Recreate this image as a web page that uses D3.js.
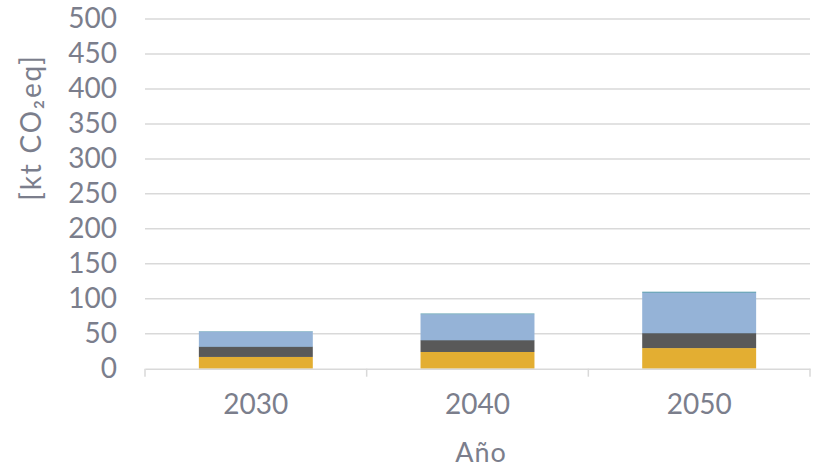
<!DOCTYPE html>
<html>
<head>
<meta charset="utf-8">
<script src="https://cdn.jsdelivr.net/npm/d3@7"></script>
<style>
  html, body { margin: 0; padding: 0; background: #fff; }
  svg { display: block; }
  text { font-family: Lato, "Noto Sans", sans-serif; fill: #7b7e8c; }
</style>
</head>
<body>
<svg id="chart" width="815" height="468"></svg>
<script>
const categories = ["2030", "2040", "2050"];
const seriesNames = ["Serie 1", "Serie 2", "Serie 3", "Serie 4", "Serie 5"];
const serie1 = [16.8, 23.9, 29.5];
const serie2 = [14.2, 16.8, 21.2];
const serie3 = [0.8, 0.3, 0.3];
const serie4 = [21.2, 36.9, 57.8];
const serie5 = [0.5, 0.9, 1.2];
const seriesColors = ["#E3AE32", "#595959", "#1F4E79", "#95B3D7", "#31849B"];
const yTicks = [0, 50, 100, 150, 200, 250, 300, 350, 400, 450, 500];
const yTitle = "[kt CO₂eq]";
const xTitle = "Año";

const svg = d3.select("#chart");
const mLeft = 145, mRight = 810, mTop = 19, mBottom = 368.7;

const x = d3.scaleBand().domain(categories).range([mLeft, mRight]).paddingInner(0.486).paddingOuter(0.243);
const xTick = d3.scaleBand().domain(categories).range([mLeft, mRight]).padding(0);
const y = d3.scaleLinear().domain([0, 500]).range([mBottom, mTop]);

// gridlines
svg.append("g").selectAll("line").data(yTicks.filter(d => d > 0)).join("line")
  .attr("x1", mLeft).attr("x2", mRight)
  .attr("y1", d => y(d)).attr("y2", d => y(d))
  .attr("stroke", "#d9d9d9").attr("stroke-width", 1.5);

// data table
const table = categories.map((c, i) => {
  const row = { cat: c };
  [serie1, serie2, serie3, serie4, serie5].forEach((s, k) => row[seriesNames[k]] = s[i]);
  return row;
});
const stacked = d3.stack().keys(seriesNames)(table);

svg.append("g").selectAll("g").data(stacked).join("g")
  .attr("fill", (d, i) => seriesColors[i])
  .selectAll("rect").data(d => d).join("rect")
  .attr("x", d => x(d.data.cat))
  .attr("width", x.bandwidth())
  .attr("y", d => y(d[1]))
  .attr("height", d => y(d[0]) - y(d[1]));

// x axis
const xAxis = d3.axisBottom(xTick).tickSize(0).tickPadding(25);
const gx = svg.append("g").attr("transform", `translate(0,${mBottom})`).call(xAxis);
gx.select(".domain").attr("stroke", "#d9d9d9").attr("stroke-width", 1.5);
gx.selectAll("text").style("font-size", "28px").style("font-family", "Lato, 'Noto Sans', sans-serif").attr("fill", "#7b7e8c").attr("dy", "0.71em");
const sepPos = categories.map(c => xTick(c)).concat([mRight]);
gx.append("g").selectAll("line").data(sepPos).join("line")
  .attr("x1", d => d).attr("x2", d => d).attr("y1", 0).attr("y2", 8)
  .attr("stroke", "#d9d9d9").attr("stroke-width", 1.5);

// y axis
const yAxis = d3.axisLeft(y).tickValues(yTicks).tickSize(0).tickPadding(28);
const gy = svg.append("g").attr("transform", `translate(${mLeft},0)`).call(yAxis);
gy.select(".domain").remove();
gy.selectAll("text").style("font-size", "28px").style("font-family", "Lato, 'Noto Sans', sans-serif").attr("fill", "#7b7e8c");

// titles
svg.append("text").attr("transform", `translate(41,127.5) rotate(-90)`)
  .attr("text-anchor", "middle").style("font-size", "28px").style("letter-spacing", "1.8px").text(yTitle);
svg.append("text").attr("x", 481).attr("y", 462)
  .attr("text-anchor", "middle").style("font-size", "27px").style("letter-spacing", "1px").text(xTitle);
</script>
</body>
</html>
